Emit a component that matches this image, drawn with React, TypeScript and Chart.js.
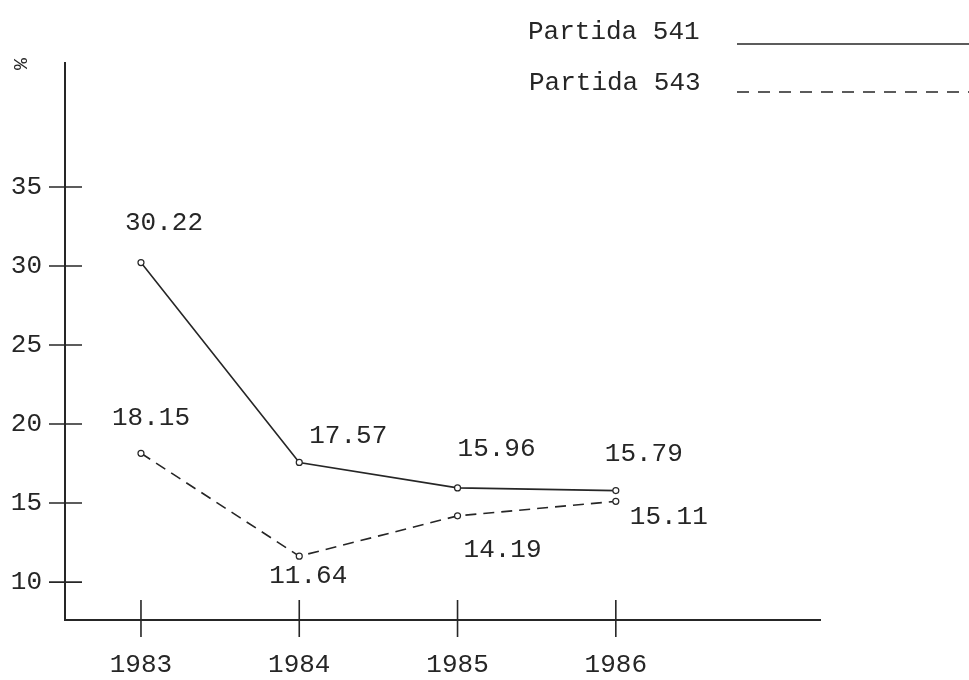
import React, { useEffect, useRef } from "react";
import { Chart, registerables } from "chart.js";

Chart.register(...registerables);

const years = [1983, 1984, 1985, 1986];
const partida541 = [30.22, 17.57, 15.96, 15.79];
const partida543 = [18.15, 11.64, 14.19, 15.11];
const yTickValues = [10, 15, 20, 25, 30, 35];
const seriesNames = ["Partida 541", "Partida 543"];
// label offsets (px) relative to each point
const labelOffsets541 = [[23, -39], [49, -26], [39, -39], [28, -36]];
const labelOffsets543 = [[10, -35], [9, 20], [45, 34], [53, 16]];

const INK = "#262626";
const FONT = "'Liberation Mono', 'DejaVu Sans Mono', monospace";

const decorPlugin = {
  id: "decor",
  afterDraw(chart: any) {
    const ctx = chart.ctx;
    const xs = chart.scales.x;
    const ys = chart.scales.y;
    ctx.save();
    ctx.strokeStyle = INK;
    ctx.lineWidth = 1.6;
    ctx.setLineDash([]);
    yTickValues.forEach((v) => {
      const py = ys.getPixelForValue(v);
      ctx.beginPath();
      ctx.moveTo(xs.left - 16, py);
      ctx.lineTo(xs.left + 17, py);
      ctx.stroke();
    });
    years.forEach((v) => {
      const px = xs.getPixelForValue(v);
      ctx.beginPath();
      ctx.moveTo(px, ys.bottom - 20);
      ctx.lineTo(px, ys.bottom + 17);
      ctx.stroke();
    });
    ctx.fillStyle = INK;
    ctx.font = `26px ${FONT}`;
    ctx.textAlign = "center";
    ctx.textBaseline = "middle";
    const offs = [labelOffsets541, labelOffsets543];
    chart.data.datasets.forEach((ds: any, di: number) => {
      const meta = chart.getDatasetMeta(di);
      meta.data.forEach((pt: any, i: number) => {
        const v = ds.data[i].y;
        ctx.fillText(v.toFixed(2), pt.x + offs[di][i][0], pt.y + offs[di][i][1]);
      });
    });
    ctx.textAlign = "left";
    ctx.fillText(seriesNames[0], 528, 32);
    ctx.fillText(seriesNames[1], 529, 83);
    ctx.lineWidth = 1.6;
    ctx.beginPath();
    ctx.moveTo(737, 44);
    ctx.lineTo(969, 44);
    ctx.stroke();
    ctx.setLineDash([12, 9]);
    ctx.beginPath();
    ctx.moveTo(737, 92);
    ctx.lineTo(969, 92);
    ctx.stroke();
    ctx.setLineDash([]);
    ctx.save();
    ctx.translate(19, 64);
    ctx.rotate(Math.PI / 2);
    ctx.font = `20px ${FONT}`;
    ctx.textAlign = "center";
    ctx.fillText("%", 0, 0);
    ctx.restore();
    ctx.restore();
  },
};

export default function App() {
  const ref = useRef<HTMLCanvasElement | null>(null);
  useEffect(() => {
    if (!ref.current) return;
    const chart = new Chart(ref.current, {
      type: "line",
      data: {
        datasets: [
          {
            label: seriesNames[0],
            data: years.map((y, i) => ({ x: y, y: partida541[i] })),
            borderColor: INK,
            borderWidth: 1.6,
            pointRadius: 3,
            pointBackgroundColor: "#fff",
            pointBorderColor: INK,
            pointBorderWidth: 1.2,
            fill: false,
            tension: 0,
          },
          {
            label: seriesNames[1],
            data: years.map((y, i) => ({ x: y, y: partida543[i] })),
            borderColor: INK,
            borderWidth: 1.6,
            borderDash: [11, 7],
            pointRadius: 3,
            pointBackgroundColor: "#fff",
            pointBorderColor: INK,
            pointBorderWidth: 1.2,
            fill: false,
            tension: 0,
          },
        ],
      },
      options: {
        animation: false,
        responsive: false,
        maintainAspectRatio: false,
        layout: { padding: { top: 63, right: 149, left: 0, bottom: 0 } },
        plugins: { legend: { display: false }, tooltip: { enabled: false } },
        scales: {
          x: {
            type: "linear",
            min: 1982.52,
            max: 1987.29,
            afterFit: (s: any) => { s.height = 60; },
            afterBuildTicks: (s: any) => { s.ticks = years.map((v) => ({ value: v })); },
            grid: { display: false, drawTicks: false },
            border: { display: true, color: INK, width: 2 },
            ticks: {
              color: INK,
              font: { family: FONT, size: 26 },
              padding: 30,
              callback: (v: any) => String(v),
              maxRotation: 0,
              autoSkip: false,
            },
          },
          y: {
            type: "linear",
            min: 7.6,
            max: 42.85,
            afterFit: (s: any) => { s.width = 65; },
            afterBuildTicks: (s: any) => { s.ticks = yTickValues.map((v) => ({ value: v })); },
            grid: { display: false, drawTicks: false },
            border: { display: true, color: INK, width: 2 },
            ticks: {
              color: INK,
              font: { family: FONT, size: 26 },
              padding: 23,
              callback: (v: any) => String(v),
              autoSkip: false,
            },
          },
        },
      },
      plugins: [decorPlugin],
    });
    return () => chart.destroy();
  }, []);
  return (
    <div style={{ position: "fixed", left: 0, top: 0, width: 969, height: 680, background: "#fff" }}>
      <canvas ref={ref} width={969} height={680} />
    </div>
  );
}
